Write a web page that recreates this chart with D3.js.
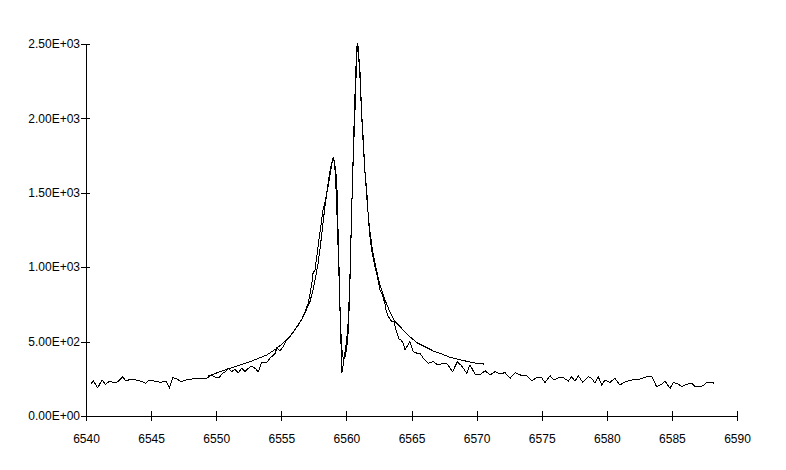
<!DOCTYPE html>
<html>
<head>
<meta charset="utf-8">
<script src="https://cdn.jsdelivr.net/npm/d3@7"></script>
<style>
  html, body { margin: 0; padding: 0; background: #fff; }
  svg { display: block; }
  text { font-family: "Liberation Sans", Arial, sans-serif; font-size: 12px; fill: #000; }
</style>
</head>
<body>
<svg id="chart" width="786" height="470"></svg>
<script>
// ---- data ----
const xTicks = [6540, 6545, 6550, 6555, 6560, 6565, 6570, 6575, 6580, 6585, 6590];
const yTicks = [0, 500, 1000, 1500, 2000, 2500];
const yTickLabels = ["0.00E+00", "5.00E+02", "1.00E+03", "1.50E+03", "2.00E+03", "2.50E+03"];

// observed spectrum
const obsWave = [
  6540.36, 6540.56, 6540.90, 6541.23, 6541.48, 6541.84, 6542.20, 6542.51, 6542.82, 6543.07,
  6543.46, 6543.84, 6544.15, 6544.61, 6544.86, 6545.25, 6545.76, 6546.14, 6546.40, 6546.66,
  6546.91, 6547.30, 6547.68, 6548.19, 6548.70, 6549.22, 6549.52, 6549.73, 6550.04, 6550.24,
  6550.50, 6550.68, 6550.93, 6551.19, 6551.44, 6551.70, 6551.96, 6552.21, 6552.47, 6552.73,
  6552.98, 6553.23, 6553.49, 6553.88, 6554.13, 6554.52, 6554.65, 6554.90, 6555.15, 6555.36,
  6555.67, 6556.05, 6556.31, 6556.57, 6556.82, 6557.07, 6557.33, 6557.45, 6557.58, 6557.74,
  6557.89, 6558.05, 6558.20, 6558.39, 6558.55, 6558.74, 6558.89, 6558.99, 6559.12, 6559.26,
  6559.38, 6559.51, 6559.58, 6559.64, 6559.76, 6559.89, 6560.02, 6560.15, 6560.28, 6560.41,
  6560.53, 6560.66, 6560.78, 6560.84, 6560.91, 6561.04, 6561.17, 6561.30, 6561.43, 6561.56,
  6561.68, 6561.81, 6561.94, 6562.20, 6562.33, 6562.58, 6562.71, 6562.96, 6563.04, 6563.20,
  6563.48, 6563.66, 6563.81, 6564.06, 6564.19, 6564.37, 6564.50, 6564.88, 6565.14, 6565.40,
  6565.65, 6565.91, 6566.29, 6566.67, 6566.93, 6567.19, 6567.70, 6568.16, 6568.52, 6568.86,
  6569.24, 6569.49, 6569.88, 6570.26, 6570.65, 6571.03, 6571.41, 6571.80, 6572.18, 6572.57,
  6572.95, 6573.33, 6573.85, 6574.23, 6574.62, 6575.00, 6575.25, 6575.64, 6575.94, 6576.28,
  6576.66, 6577.04, 6577.30, 6577.56, 6577.81, 6578.15, 6578.58, 6578.84, 6579.09, 6579.35,
  6579.61, 6579.86, 6580.24, 6580.63, 6581.01, 6581.40, 6581.91, 6582.30, 6582.68, 6583.06,
  6583.45, 6583.83, 6584.22, 6584.47, 6584.86, 6585.11, 6585.50, 6585.76, 6586.14, 6586.53,
  6586.78, 6587.17, 6587.42, 6587.68, 6588.06, 6588.26
];
const obsFlux = [
  213, 235, 190, 242, 213, 235, 222, 235, 264, 235,
  249, 242, 235, 220, 242, 235, 226, 235, 190, 257,
  253, 230, 242, 249, 253, 249, 269, 271, 257, 260,
  287, 296, 321, 298, 314, 291, 321, 298, 321, 336,
  321, 298, 358, 358, 388, 421, 455, 439, 466, 506,
  533, 583, 612, 650, 701, 757, 880, 968, 974, 1082,
  1183, 1284, 1384, 1452, 1519, 1620, 1700, 1742, 1687, 1586,
  1183, 734, 511, 287, 343, 430, 511, 645, 959, 1406,
  1742, 2056, 2392, 2504, 2426, 2325, 2034, 1855, 1631, 1519,
  1339, 1205, 1116, 1003, 959, 847, 825, 757, 712, 672,
  634, 632, 578, 515, 511, 489, 444, 499, 432, 423,
  421, 388, 354, 365, 349, 349, 354, 298, 365, 336,
  287, 343, 282, 276, 304, 276, 298, 282, 292, 253,
  291, 276, 269, 237, 257, 257, 225, 271, 242, 257,
  257, 235, 264, 235, 271, 226, 264, 253, 220, 264,
  208, 242, 226, 253, 208, 230, 242, 242, 253, 264,
  264, 197, 213, 235, 186, 226, 213, 197, 213, 220,
  197, 197, 204, 226, 226, 220
];

// fitted model profile
const fitWave = [
  6549.39, 6551.06, 6552.60, 6553.88, 6554.65, 6555.42, 6556.05, 6556.69, 6557.20, 6557.43,
  6557.67, 6557.84, 6558.01, 6558.16, 6558.32, 6558.47, 6558.63, 6558.78, 6558.93, 6559.03,
  6559.16, 6559.28, 6559.42, 6559.53, 6559.63, 6559.70, 6559.78, 6559.89, 6560.01, 6560.12,
  6560.24, 6560.35, 6560.49, 6560.62, 6560.74, 6560.81, 6560.89, 6560.99, 6561.12, 6561.23,
  6561.39, 6561.58, 6561.77, 6562.00, 6562.27, 6562.58, 6562.96, 6563.35, 6563.73, 6564.12,
  6564.88, 6565.40, 6566.17, 6566.67, 6567.44, 6567.96, 6568.98, 6569.72, 6570.57
];
const fitFlux = [
  269, 321, 365, 410, 455, 511, 578, 667, 768, 847,
  948, 1035, 1149, 1263, 1384, 1485, 1586, 1667, 1720, 1734,
  1620, 1351, 981, 645, 477, 403, 388, 396, 444, 544,
  780, 1183, 1653, 2056, 2359, 2486, 2493, 2379, 2124, 1922,
  1687, 1452, 1263, 1116, 995, 880, 780, 699, 634, 600,
  533, 493, 460, 437, 413, 394, 373, 358, 349
];

// ---- drawing ----
const svg = d3.select("#chart");
const x = d3.scaleLinear().domain([6540, 6590]).range([86, 737]);
const y = d3.scaleLinear().domain([0, 2500]).range([416, 44]);

// y axis
const yAxis = svg.append("g")
  .attr("transform", "translate(86,0)")
  .call(d3.axisLeft(y).tickValues(yTicks).tickSize(5).tickSizeOuter(0)
        .tickFormat((d, i) => yTickLabels[i]));
yAxis.selectAll(".tick line").attr("x1", 4).attr("x2", -5);
yAxis.selectAll(".tick text").attr("x", -6).attr("dy", "0.3em");
yAxis.select(".domain").attr("d", "M0.5," + (y(0) + 0.5) + "V" + (y(2500) + 0.5));

// x axis
const xAxis = svg.append("g")
  .attr("transform", "translate(0,416)")
  .call(d3.axisBottom(x).tickValues(xTicks).tickSize(5).tickSizeOuter(0).tickFormat(d3.format("d")));
xAxis.selectAll(".tick line").attr("y1", -5).attr("y2", 5);
xAxis.selectAll(".tick text").attr("y", 27).attr("dy", "0");

svg.selectAll(".domain, .tick line").attr("stroke", "#000").attr("shape-rendering", "crispEdges");
svg.selectAll(".tick text").attr("font-size", 12).attr("font-family", "Liberation Sans, Arial, sans-serif").attr("fill", "#000");

const line = d3.line().x(d => x(d[0])).y(d => y(d[1]));

svg.append("path")
  .datum(fitWave.map((w, i) => [w, fitFlux[i]]))
  .attr("fill", "none").attr("stroke", "#000").attr("stroke-width", 1)
  .attr("shape-rendering", "crispEdges")
  .attr("d", line);

svg.append("path")
  .datum(obsWave.map((w, i) => [w, obsFlux[i]]))
  .attr("fill", "none").attr("stroke", "#000").attr("stroke-width", 1)
  .attr("shape-rendering", "crispEdges")
  .attr("d", line);
</script>
</body>
</html>
